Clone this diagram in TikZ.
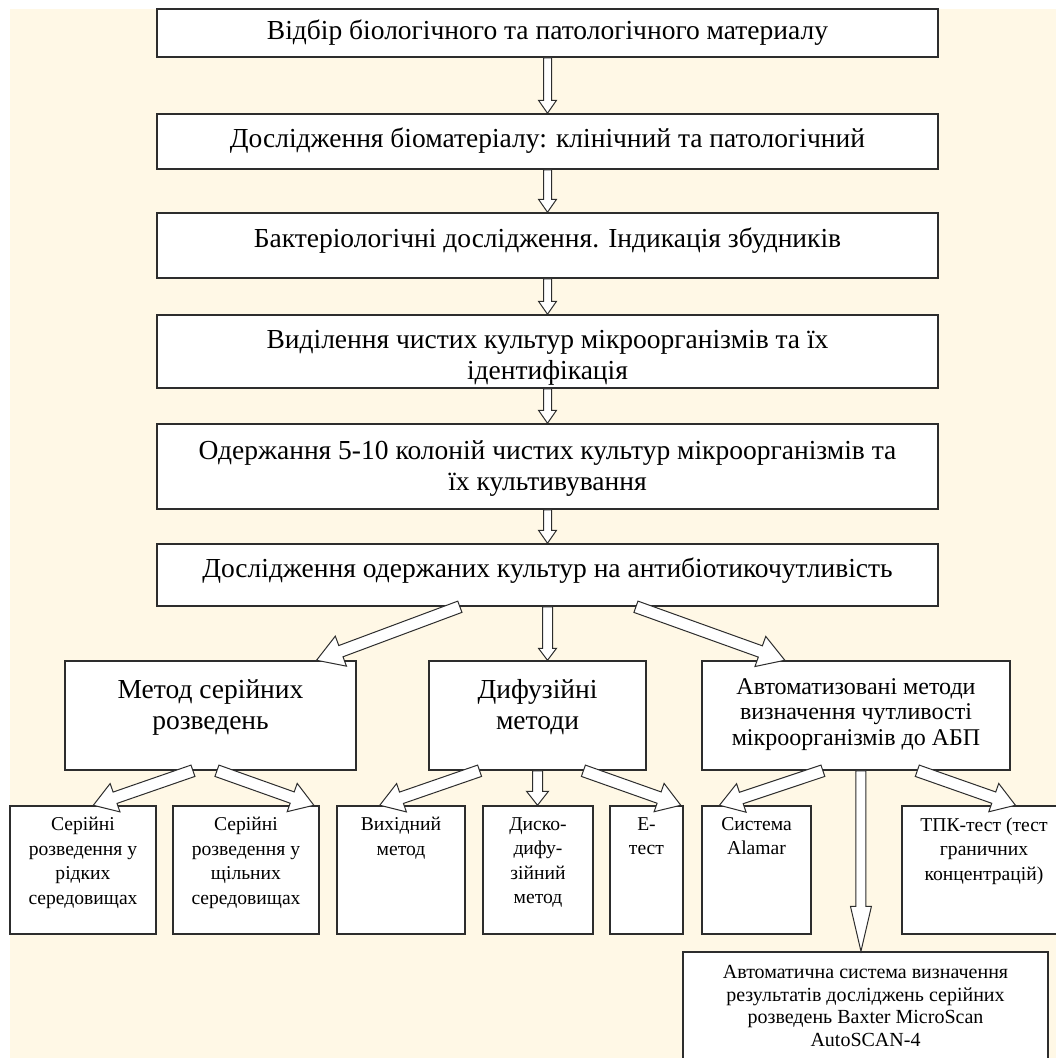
\documentclass[tikz,border=0pt]{standalone}
\usepackage{fontspec}
\setmainfont{Liberation Serif}
\usetikzlibrary{calc,positioning}

\definecolor{cream}{RGB}{255,248,230}
\definecolor{edge}{RGB}{45,45,45}

\tikzset{
	box/.style={draw=edge, line width=1.5pt, fill=white, inner sep=0pt},
	big/.style={font=\fontsize{27.5}{31}\selectfont, align=center, inner sep=0pt},
	mid/.style={font=\fontsize{24}{25.5}\selectfont, align=center, inner sep=0pt},
	small/.style={font=\fontsize{19.6}{24.5}\selectfont, align=center, inner sep=0pt},
	hollow/.style={draw=edge, line width=1pt, fill=white, line join=miter},
}

%hollow block arrow: tail, tip, half shaft, half head, head length
\newcommand\blockarrow[5]{%
	\coordinate (hb) at ($(#2)!#5!(#1)$);
	\draw[hollow] ($(#1)!#3!90:(#2)$) -- ($(hb)!#3!-90:(#1)$) -- ($(hb)!#4!-90:(#1)$)
		-- (#2) -- ($(hb)!#4!90:(#1)$) -- ($(hb)!#3!90:(#1)$) -- ($(#1)!#3!-90:(#2)$) -- cycle;
}

\begin{document}
\begin{tikzpicture}[x=1pt,y=-1pt]
\useasboundingbox (0,0) rectangle (1056,1058);
%background
\fill[white] (0,0) rectangle (1056,1058);
\fill[cream] (10,9) rectangle (1056,1058);

%main column
\foreach \name/\y/\h in {sampling/33/48, study/141.5/55, bacter/245.5/65, isolate/351.5/73,
	colonies/466.5/85, sensit/575/62}{
	\node[box, minimum width=781, minimum height=\h] (\name) at (547.5,\y) {};
}
\node[big] (sampling-t) at (sampling) {Відбір біологічного та патологічного материалу};
\node[big] (study-t) at ($(study)+(0,-1)$) {Дослідження біоматеріалу: клінічний та патологічний};
\node[big] (bacter-t) at ($(bacter)+(0,-5)$) {Бактеріологічні дослідження. Індикація збудників};
\node[big] (isolate-t) at ($(isolate)+(0,6)$) {Виділення чистих культур мікроорганізмів та їх\\ідентифікація};
\node[big] (colonies-t) at ($(colonies)+(0,2)$) {Одержання 5-10 колоній чистих культур мікроорганізмів та\\їх культивування};
\node[big] (sensit-t) at ($(sensit)+(0,-4)$) {Дослідження одержаних культур на антибіотикочутливість};

%methods
\node[box, minimum width=291, minimum height=109] (serial) at (210.5,715.5) {};
\node[box, minimum width=217, minimum height=109] (diffus) at (537.5,715.5) {};
\node[box, minimum width=308, minimum height=109] (auto) at (856,715.5) {};
\node[big, below=19pt of serial.north] (serial-t) {Метод серійних\\розведень};
\node[big, below=19pt of diffus.north] (diffus-t) {Дифузійні\\методи};
\node[mid, below=18pt of auto.north] (auto-t)
	{Автоматизовані методи\\визначення чутливості\\мікроорганізмів до АБП};

%tests
\foreach \name/\x/\w in {liquid/83/146, dense/246/146, outlet/401/128, disk/538/110,
	etest/646.5/73, alamar/756.5/109, tpk/984/164}{
	\node[box, minimum width=\w, minimum height=128] (\name) at (\x,870) {};
}
\node[box, minimum width=365, minimum height=118] (baxter) at (865.5,1011) {};

\node[small, below=12pt of liquid.north] (liquid-t) {Серійні\\розведення у\\рідких\\середовищах};
\node[small, below=12pt of dense.north] (dense-t) {Серійні\\розведення у\\щільних\\середовищах};
\node[small, below=12pt of outlet.north] (outlet-t) {Вихідний\\метод};
\node[small, below=12pt of disk.north] (disk-t) {Диско-\\дифу-\\зійний\\метод};
\node[small, below=12pt of etest.north] (etest-t) {Е-\\тест};
\node[small, below=12pt of alamar.north] (alamar-t) {Система\\Alamar};
\node[small, below=12pt of tpk.north] (tpk-t) {ТПК-тест (тест\\граничних\\концентрацій)};
\node[small, font=\fontsize{20}{22.5}\selectfont, below=14pt of baxter.north] (baxter-t)
	{Автоматична система визначення\\результатів досліджень серійних\\розведень Baxter MicroScan\\AutoSCAN-4};

%arrows between main steps
\foreach \a/\b in {sampling/study, study/bacter, bacter/isolate, isolate/colonies, colonies/sensit}{
	\coordinate (t) at (\a.south);
	\coordinate (h) at (\a.south |- \b.north);
	\blockarrow{t}{h}{4pt}{9pt}{13pt}
}

%slanted arrows: tail node/fraction, tip node/fraction
\foreach \a/\p/\b/\q/\s/\hw/\hl in {sensit/0.388/serial/0.8625/6pt/16pt/26pt,
	sensit/0.613/auto/0.27/6pt/16pt/26pt,
	serial/0.44/liquid/0.57/6pt/15pt/23pt,
	serial/0.522/dense/0.96/6pt/15pt/23pt,
	diffus/0.235/outlet/0.336/6pt/15pt/23pt,
	diffus/0.71/etest/0.96/6pt/15pt/23pt,
	auto/0.393/alamar/0.165/6pt/15pt/23pt,
	auto/0.698/tpk/0.69/6pt/15pt/23pt}{
	\coordinate (t) at ($(\a.south west)!\p!(\a.south east)$);
	\coordinate (h) at ($(\b.north west)!\q!(\b.north east)$);
	\blockarrow{t}{h}{\s}{\hw}{\hl}
}

%straight down arrows
\coordinate (t) at (sensit.south);
\coordinate (h) at (sensit.south |- diffus.north);
\blockarrow{t}{h}{5pt}{9pt}{12pt}
\coordinate (t) at (diffus.south);
\coordinate (h) at (diffus.south |- disk.north);
\blockarrow{t}{h}{5pt}{11pt}{14pt}
\coordinate (t) at ($(auto.south west)!0.516!(auto.south east)$);
\coordinate (h) at (t |- baxter.north);
\blockarrow{t}{h}{5pt}{10.5pt}{45pt}
\end{tikzpicture}
\end{document}
